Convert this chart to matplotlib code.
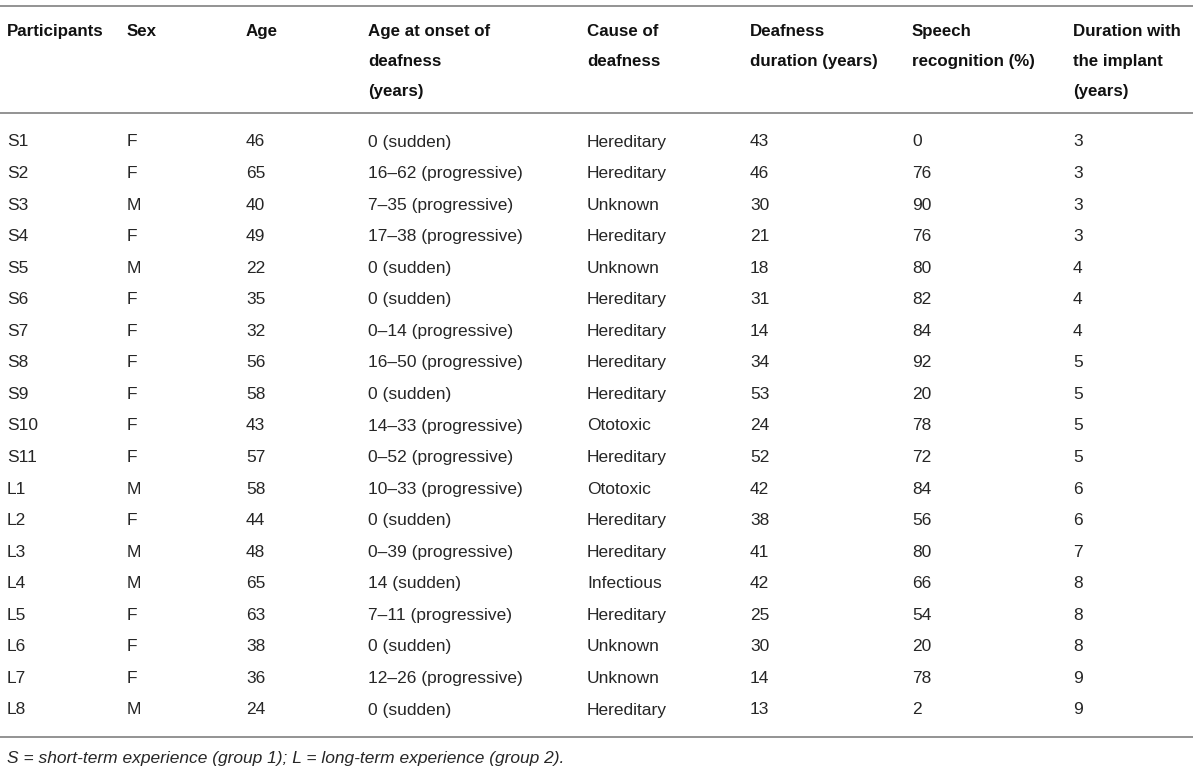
import matplotlib
matplotlib.use("Agg")
import matplotlib.pyplot as plt

plt.rcParams["font.family"] = ["Liberation Sans", "DejaVu Sans"]

headers = [
    "Participants",
    "Sex",
    "Age",
    "Age at onset of\ndeafness\n(years)",
    "Cause of\ndeafness",
    "Deafness\nduration (years)",
    "Speech\nrecognition (%)",
    "Duration with\nthe implant\n(years)",
]

participants = ["S1", "S2", "S3", "S4", "S5", "S6", "S7", "S8", "S9", "S10", "S11",
                "L1", "L2", "L3", "L4", "L5", "L6", "L7", "L8"]
sex = ["F", "F", "M", "F", "M", "F", "F", "F", "F", "F", "F",
       "M", "F", "M", "M", "F", "F", "F", "M"]
age = [46, 65, 40, 49, 22, 35, 32, 56, 58, 43, 57, 58, 44, 48, 65, 63, 38, 36, 24]
onset = ["0 (sudden)", "16–62 (progressive)", "7–35 (progressive)", "17–38 (progressive)",
         "0 (sudden)", "0 (sudden)", "0–14 (progressive)", "16–50 (progressive)",
         "0 (sudden)", "14–33 (progressive)", "0–52 (progressive)", "10–33 (progressive)",
         "0 (sudden)", "0–39 (progressive)", "14 (sudden)", "7–11 (progressive)",
         "0 (sudden)", "12–26 (progressive)", "0 (sudden)"]
cause = ["Hereditary", "Hereditary", "Unknown", "Hereditary", "Unknown", "Hereditary",
         "Hereditary", "Hereditary", "Hereditary", "Ototoxic", "Hereditary", "Ototoxic",
         "Hereditary", "Hereditary", "Infectious", "Hereditary", "Unknown", "Unknown",
         "Hereditary"]
deaf_duration = [43, 46, 30, 21, 18, 31, 14, 34, 53, 24, 52, 42, 38, 41, 42, 25, 30, 14, 13]
speech = [0, 76, 90, 76, 80, 82, 84, 92, 20, 78, 72, 84, 56, 80, 66, 54, 20, 78, 2]
implant_years = [3, 3, 3, 3, 4, 4, 4, 5, 5, 5, 5, 6, 6, 7, 8, 8, 8, 9, 9]

footnote = "S = short-term experience (group 1); L = long-term experience (group 2)."

W, H = 1200, 773
col_x = [7, 127, 246, 368, 587, 750, 912, 1073]
HEAD_FS = 12.2
BODY_FS = 12.5

fig = plt.figure(figsize=(W / 100, H / 100), dpi=100)
ax = fig.add_axes([0, 0, 1, 1])
ax.set_xlim(0, W)
ax.set_ylim(H, 0)
ax.axis("off")

# horizontal rules
for y in (6, 113, 737):
    ax.plot([0, 1193], [y, y], color="#8a8a8a", lw=1.3, solid_capstyle="butt")

# header
for x, h in zip(col_x, headers):
    ax.text(x, 24, h, ha="left", va="top", fontsize=HEAD_FS, fontweight="bold",
            color="#111111", linespacing=2.27)

# body rows
rows = list(zip(participants, sex, age, onset, cause, deaf_duration, speech, implant_years))
y0, dy = 142, (710 - 142) / 18
for i, row in enumerate(rows):
    y = y0 + i * dy
    for x, cell in zip(col_x, row):
        ax.text(x, y, str(cell), ha="left", va="center", fontsize=BODY_FS, color="#262626")

ax.text(7, 758, footnote, ha="left", va="center", fontsize=BODY_FS, style="italic",
        color="#262626")

fig.savefig("out.png", dpi=100)
